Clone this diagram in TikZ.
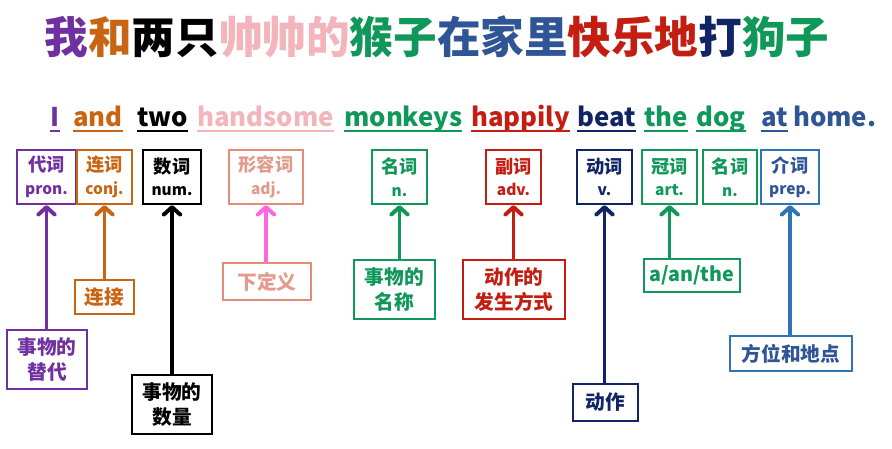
\documentclass[tikz,border=0pt]{standalone}
\usepackage{fontspec}
\setmainfont{Noto Sans CJK SC}
\usepackage{xcolor}
\usetikzlibrary{arrows.meta}
\definecolor{cpurple}{HTML}{7030A0}
\definecolor{corange}{HTML}{C96512}
\definecolor{cpink}{HTML}{F4B4BC}
\definecolor{csalmon}{HTML}{E48C78}
\definecolor{csalmontext}{HTML}{E29A8C}
\definecolor{cmagenta}{HTML}{FF66E0}
\definecolor{cgreen}{HTML}{10985A}
\definecolor{cred}{HTML}{C41E12}
\definecolor{cnavy}{HTML}{102466}
\definecolor{cblue}{HTML}{2F5597}
\definecolor{cprep}{HTML}{2E75B6}
\tikzset{
  headline/.style={font=\fontsize{31}{34}\selectfont\bfseries,inner sep=0pt},
  word/.style={font=\fontsize{18.3}{22}\selectfont\bfseries,text=#1,inner sep=0pt,anchor=base west},
  uline/.style={draw=#1,line width=1.4pt},
  tag/.style={draw=#1,text=#1,line width=1.6pt,align=center,inner sep=0pt,
              font=\fontsize{13}{16}\selectfont\bfseries},
  note/.style={draw=#1,text=#1,line width=1.6pt,align=center,inner sep=0pt,
               font=\fontsize{14}{18}\selectfont\bfseries},
  sz/.style 2 args={minimum width=#1*0.025cm,minimum height=#2*0.025cm},
  arr/.style={draw=#1,line width=2.8pt,-{Straight Barb[length=5.5pt,width=12pt,round]}}
}
\newcommand{\abbr}[1]{{\fontsize{11}{13}\selectfont #1}}
\begin{document}
\begin{tikzpicture}[x=0.025cm,y=-0.025cm]
  \useasboundingbox (0,0) rectangle (892,448);

  % title
  \node[headline] (head) at (437,37) {{\color{cpurple}我}{\color{corange}和}两只{\color{cpink}帅帅的}{\color{cgreen}猴子}{\color{cblue}在家里}{\color{cred}快乐地}{\color{cnavy}打}{\color{cgreen}狗子}};

  % sentence
  \node[word=cpurple] (wI) at (50,126) {I};
  \node[word=corange] (wand) at (73,126) {and};
  \node[word=black] (wtwo) at (137,126) {two};
  \node[word=cpink] (whand) at (197,126) {handsome};
  \node[word=cgreen] (wmonk) at (344,126) {monkeys};
  \node[word=cred] (whapp) at (471,126) {happily};
  \node[word=cnavy] (wbeat) at (577,126) {beat};
  \node[word=cgreen] (wthe) at (644,126) {the};
  \node[word=cgreen] (wdog) at (696,126) {dog};
  \node[word=cblue] (wat) at (761,126) {at};
  \node[word=cblue] (whome) at (793,126) {home.};
  \foreach \w/\c in {wI/cpurple,wand/corange,wtwo/black,whand/cpink,wmonk/cgreen,
                     whapp/cred,wbeat/cnavy,wthe/cgreen,wdog/cgreen,wat/cblue}
    \draw[uline=\c] ([yshift=-3.6pt]\w.base west) -- ([yshift=-3.6pt]\w.base east);

  % word classes
  \node[tag=cpurple,sz={59}{54}] (pron) at (46.5,177) {代词\\\abbr{pron.}};
  \node[tag=corange,sz={55}{54}] (conj) at (104.5,177) {连词\\\abbr{conj.}};
  \node[tag=black,sz={58}{54}] (num) at (172,177) {数词\\\abbr{num.}};
  \node[tag=csalmon,text=csalmontext,sz={74}{54}] (adj) at (266,177) {形容词\\\abbr{adj.}};
  \node[tag=cgreen,sz={55}{54}] (noun) at (399.5,177) {名词\\\abbr{n.}};
  \node[tag=cred,sz={55}{54}] (adv) at (513.5,177) {副词\\\abbr{adv.}};
  \node[tag=cnavy,sz={55}{54}] (verb) at (604.5,177) {动词\\\abbr{v.}};
  \node[tag=cgreen,sz={55}{54}] (art) at (669.5,177) {冠词\\\abbr{art.}};
  \node[tag=cgreen,sz={54}{54}] (noun2) at (730,177) {名词\\\abbr{n.}};
  \node[tag=cprep,text=cblue,sz={58}{54}] (prep) at (790,177) {介词\\\abbr{prep.}};

  % meanings
  \node[note=cpurple,sz={80}{59}] (pronL) at (47,359.5) {事物的\\替代};
  \node[note=corange,sz={59}{34}] (conjL) at (104.5,297) {连接};
  \node[note=black,sz={80}{59}] (numL) at (172,404.5) {事物的\\数量};
  \node[note=csalmon,text=csalmontext,sz={88}{37}] (adjL) at (267,281.5) {下定义};
  \node[note=cgreen,sz={81}{59}] (nounL) at (394.5,289.5) {事物的\\名称};
  \node[note=cred,sz={102}{59}] (advL) at (514,289.5) {动作的\\发生方式};
  \node[note=cnavy,sz={65}{37}] (verbL) at (605.5,402.5) {动作};
  \node[note=cgreen,sz={96}{33}] (artL) at (692,275.5) {a/an/the};
  \node[note=cprep,text=cblue,sz={122}{35}] (prepL) at (791,353.5) {方位和地点};

  \draw[arr=cpurple] (pron.south |- pronL.north) -- (pron.south);
  \draw[arr=corange] (conj.south |- conjL.north) -- (conj.south);
  \draw[arr=black] (num.south |- numL.north) -- (num.south);
  \draw[arr=cmagenta] (adj.south |- adjL.north) -- (adj.south);
  \draw[arr=cgreen] (noun.south |- nounL.north) -- (noun.south);
  \draw[arr=cred] (adv.south |- advL.north) -- (adv.south);
  \draw[arr=cnavy] (verb.south |- verbL.north) -- (verb.south);
  \draw[arr=cgreen] (art.south |- artL.north) -- (art.south);
  \draw[arr=cprep] (prep.south |- prepL.north) -- (prep.south);
\end{tikzpicture}
\end{document}
